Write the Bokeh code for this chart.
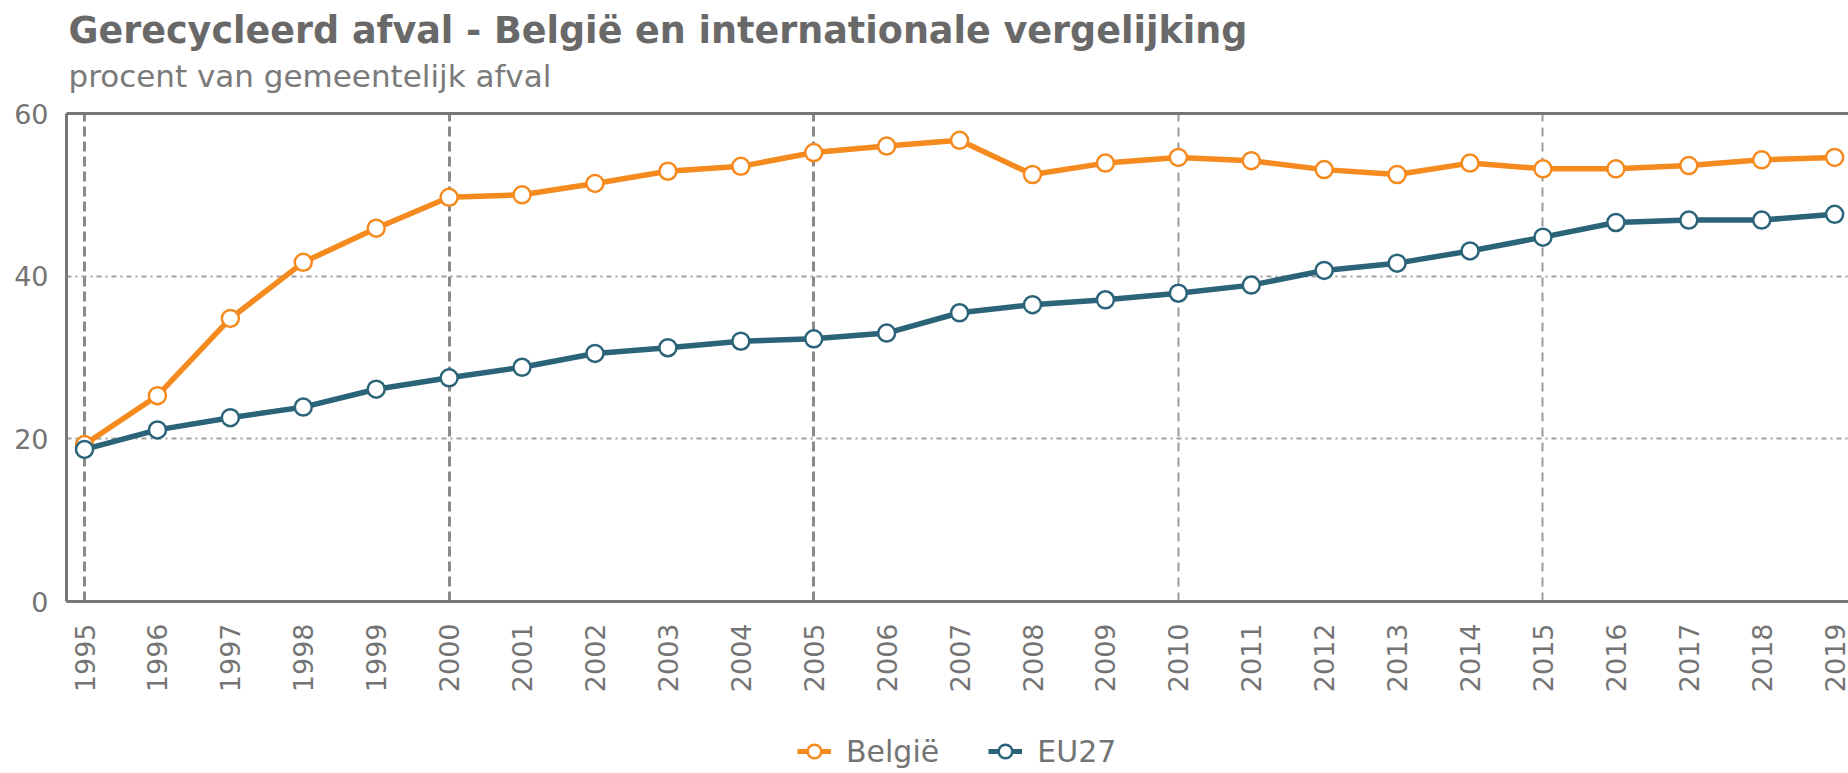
import math
from bokeh.plotting import figure
from bokeh.layouts import column
from bokeh.core.properties import value
from bokeh.models import (Range1d, FixedTicker, LinearAxis, Grid, Legend, LegendItem)
from bokeh.embed import file_html
from bokeh.resources import INLINE

years = list(range(1995, 2020))
belgie = [19.3, 25.3, 34.8, 41.7, 45.9, 49.7, 50.0, 51.4, 52.9, 53.5, 55.2, 56.0, 56.7,
          52.5, 53.9, 54.6, 54.2, 53.1, 52.5, 53.9, 53.2, 53.2, 53.6, 54.3, 54.6]
eu27 = [18.7, 21.1, 22.6, 23.9, 26.1, 27.5, 28.8, 30.5, 31.2, 32.0, 32.3, 33.0, 35.5,
        36.5, 37.1, 37.9, 38.9, 40.7, 41.6, 43.1, 44.8, 46.6, 46.9, 46.9, 47.6]
y_ticks = [0, 20, 40, 60]
major_years = [1995, 2000, 2005]
minor_years = [2010, 2015]
series_names = ["België", "EU27"]
title_text = "Gerecycleerd afval - België en internationale vergelijking"
subtitle_text = "procent van gemeentelijk afval"

FONT = "DejaVu Sans"
ORANGE = "#f58a1f"
TEAL = "#2b6479"
FRAME = "#777777"
LABEL = "#747474"
W = 1848
LEFT = 66


def bare(fig):
    fig.outline_line_color = None
    fig.grid.visible = False
    fig.border_fill_color = "white"
    fig.background_fill_color = "white"


# ---- heading strip (title + subtitle) ----
TOP_H = 95
h = figure(width=W, height=TOP_H, title=None, output_backend="svg", toolbar_location=None,
           x_range=Range1d(LEFT, W), y_range=Range1d(TOP_H, 0),
           min_border_left=LEFT, min_border_right=0, min_border_top=0, min_border_bottom=0,
           x_axis_location=None, y_axis_location=None)
bare(h)
h.text(x=[68], y=[30], text=[title_text], text_font=value(FONT), text_font_size="36.5px",
       text_font_style="bold", text_color="#696969", text_baseline="middle", text_align="left")
h.text(x=[68], y=[75], text=[subtitle_text], text_font=value(FONT), text_font_size="31px",
       text_font_style="normal", text_color="#7a7a7a", text_baseline="middle", text_align="left")

# ---- main chart ----
p = figure(width=W, height=605, title=None, output_backend="svg", toolbar_location=None,
           x_range=Range1d(1994.753, 2019.19), y_range=Range1d(0, 60),
           min_border_left=LEFT, min_border_right=0, min_border_top=113 - TOP_H, min_border_bottom=99,
           x_axis_location=None, y_axis_location=None)
bare(p)

xaxis = LinearAxis(ticker=FixedTicker(ticks=years))
xaxis.axis_line_color = FRAME
xaxis.axis_line_width = 3
xaxis.major_tick_line_color = None
xaxis.minor_tick_line_color = None
xaxis.major_tick_out = 0
xaxis.minor_tick_out = 0
xaxis.major_label_orientation = math.pi / 2
xaxis.major_label_standoff = 22
xaxis.major_label_text_font = FONT
xaxis.major_label_text_font_size = "27px"
xaxis.major_label_text_color = LABEL
p.add_layout(xaxis, "below")

yaxis = LinearAxis(ticker=FixedTicker(ticks=y_ticks))
yaxis.axis_line_color = FRAME
yaxis.axis_line_width = 3
yaxis.major_tick_line_color = None
yaxis.minor_tick_line_color = None
yaxis.major_tick_out = 0
yaxis.minor_tick_out = 0
yaxis.major_label_standoff = 18
yaxis.major_label_text_font = FONT
yaxis.major_label_text_font_size = "27px"
yaxis.major_label_text_color = LABEL
p.add_layout(yaxis, "left")

topaxis = LinearAxis(ticker=FixedTicker(ticks=[]))
topaxis.axis_line_color = FRAME
topaxis.axis_line_width = 3
topaxis.major_tick_line_color = None
topaxis.minor_tick_line_color = None
topaxis.major_tick_out = 0
topaxis.minor_tick_out = 0
topaxis.major_label_standoff = 0
topaxis.major_label_text_font_size = "0px"
p.add_layout(topaxis, "above")

g1 = Grid(dimension=0, ticker=FixedTicker(ticks=major_years))
g1.grid_line_color = "#8a8a8a"
g1.grid_line_width = 3
g1.grid_line_dash = "10 5"
p.add_layout(g1)
g2 = Grid(dimension=0, ticker=FixedTicker(ticks=minor_years))
g2.grid_line_color = "#9a9a9a"
g2.grid_line_width = 2
g2.grid_line_dash = "9 6"
p.add_layout(g2)
g3 = Grid(dimension=1, ticker=FixedTicker(ticks=[20, 40]))
g3.grid_line_color = "#a0a0a0"
g3.grid_line_width = 2
g3.grid_line_dash = "5 4 2 4"
p.add_layout(g3)

p.line(years, belgie, line_color=ORANGE, line_width=5.5, line_join="round")
p.scatter(years, belgie, marker="circle", size=17, fill_color="white",
          line_color=ORANGE, line_width=2.5)
p.line(years, eu27, line_color=TEAL, line_width=5.5, line_join="round")
p.scatter(years, eu27, marker="circle", size=17, fill_color="white",
          line_color=TEAL, line_width=2.5)

# ---- legend strip ----
q = figure(width=W, height=773 - TOP_H - 605, title=None, output_backend="svg", toolbar_location=None,
           x_range=Range1d(0, 1), y_range=Range1d(0, 1),
           min_border_left=LEFT, min_border_right=0, min_border_top=0, min_border_bottom=0,
           x_axis_location=None, y_axis_location=None)
bare(q)
qlb = q.line(years, belgie, line_color=ORANGE, line_width=5)
qsb = q.scatter(years, belgie, marker="circle", size=17, fill_color="white",
                line_color=ORANGE, line_width=2.5)
qle = q.line(years, eu27, line_color=TEAL, line_width=5)
qse = q.scatter(years, eu27, marker="circle", size=17, fill_color="white",
                line_color=TEAL, line_width=2.5)

legend = Legend(items=[LegendItem(label=series_names[0], renderers=[qlb, qsb]),
                       LegendItem(label=series_names[1], renderers=[qle, qse])],
                orientation="horizontal", location=(797 - LEFT, 2))
legend.border_line_color = None
legend.background_fill_alpha = 0
legend.label_text_font = FONT
legend.label_text_font_size = "30px"
legend.label_text_color = LABEL
legend.glyph_width = 34
legend.glyph_height = 40
legend.label_height = 40
legend.label_standoff = 15
legend.spacing = 49
legend.padding = 0
legend.margin = 0
q.add_layout(legend, "center")

layout = column(h, p, q, spacing=0)
open("out.html", "w").write(file_html(layout, INLINE))
